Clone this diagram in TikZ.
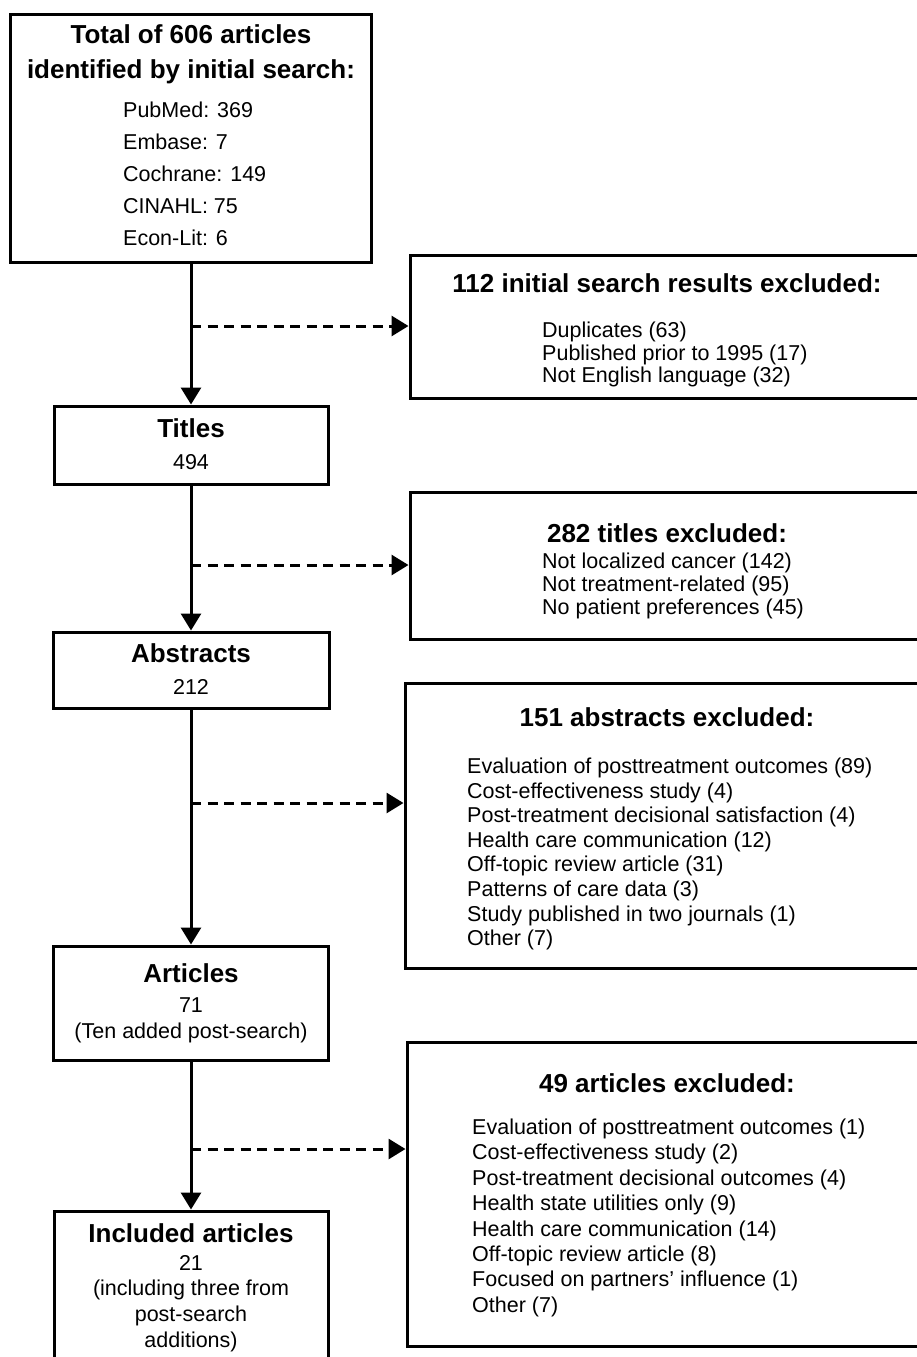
\documentclass[tikz,border=0pt]{standalone}
\usepackage{fontspec}
\setmainfont{Liberation Sans}
\usetikzlibrary{arrows.meta}

\tikzset{
  box/.style={draw, line width=3pt, inner sep=0pt},
  head/.style={font=\fontsize{26}{32}\selectfont\bfseries, inner sep=0pt},
  entry/.style={font=\fontsize{21.5}{26}\selectfont, inner sep=0pt},
  flow/.style={line width=3pt, -{Triangle[width=20pt,length=17pt]}},
  exclflow/.style={flow, dash pattern=on 10pt off 6.5pt},
}

\begin{document}
\begin{tikzpicture}[x=1pt, y=-1pt]
\useasboundingbox (0,0) rectangle (917,1357);
\clip (0,0) rectangle (917,1357);

% main column
\node[box, minimum width=361pt, minimum height=248pt] (search) at (191,138) {};
\node[head, align=center, font=\fontsize{26}{35}\selectfont\bfseries] (search-head) at (191,54.5) {Total of 606 articles\\identified by initial search:};
\foreach \t [count=\i] in {PubMed: 369, Embase: 7, Cochrane: 149, CINAHL: 75, Econ-Lit: 6}
  \node[entry, anchor=west] (search-\i) at (123,78+32*\i) {\t};

\node[box, minimum width=274pt, minimum height=78pt] (titles) at (191,445) {};
\node[head] (titles-head) at (191,428) {Titles};
\node[entry] (titles-num) at (191,462) {494};

\node[box, minimum width=276pt, minimum height=76pt] (abstracts) at (191,670) {};
\node[head] (abstracts-head) at (191,653) {Abstracts};
\node[entry] (abstracts-num) at (191,687) {212};

\node[box, minimum width=275pt, minimum height=114pt] (articles) at (191,1003) {};
\node[head] (articles-head) at (191,973) {Articles};
\node[entry, align=center] (articles-num) at (191,1020) {71\\(Ten added post-search)};

\node[box, minimum width=274pt, minimum height=200pt] (included) at (191,1311) {};
\node[head] (included-head) at (191,1233) {Included articles};
\node[entry, align=center, font=\fontsize{21.5}{25.7}\selectfont] (included-num) at (191,1303.5) {21\\(including three from\\post-search\\additions)};

% exclusion boxes
\node[box, minimum width=514pt, minimum height=143pt] (excl1) at (667,326.5) {};
\node[head] (excl1-head) at (667,283) {112 initial search results excluded:};
\foreach \t [count=\i from 0] in {Duplicates (63), Published prior to 1995 (17), Not English language (32)}
  \node[entry, anchor=west] (excl1-\i) at (542,332+22.5*\i) {\t};

\node[box, minimum width=514pt, minimum height=147pt] (excl2) at (667,565.5) {};
\node[head] (excl2-head) at (667,533) {282 titles excluded:};
\foreach \t [count=\i from 0] in {Not localized cancer (142), Not treatment-related (95), No patient preferences (45)}
  \node[entry, anchor=west] (excl2-\i) at (542,563+23*\i) {\t};

\node[box, minimum width=519pt, minimum height=285pt] (excl3) at (664.5,825.5) {};
\node[head] (excl3-head) at (667,717) {151 abstracts excluded:};
\foreach \t [count=\i from 0] in {Evaluation of posttreatment outcomes (89), Cost-effectiveness study (4),
    Post-treatment decisional satisfaction (4), Health care communication (12), Off-topic review article (31),
    Patterns of care data (3), Study published in two journals (1), Other (7)}
  \node[entry, anchor=west] (excl3-\i) at (467,768+24.6*\i) {\t};

\node[box, minimum width=517pt, minimum height=304pt] (excl4) at (665.5,1194) {};
\node[head] (excl4-head) at (667,1083) {49 articles excluded:};
\foreach \t [count=\i from 0] in {Evaluation of posttreatment outcomes (1), Cost-effectiveness study (2),
    Post-treatment decisional outcomes (4), Health state utilities only (9), Health care communication (14),
    Off-topic review article (8), Focused on partners' influence (1), Other (7)}
  \node[entry, anchor=west] (excl4-\i) at (472,1129+25.4*\i) {\t};

% connectors
\draw[flow] (search.south) -- (titles.north);
\draw[flow] (titles.south) -- (abstracts.north);
\draw[flow] (abstracts.south) -- (articles.north);
\draw[flow] (articles.south) -- (included.north);

\coordinate (split1) at (191,326);
\coordinate (split2) at (191,565);
\coordinate (split3) at (191,803);
\coordinate (split4) at (191,1149);
\draw[exclflow] (split1) -- (split1 -| excl1.west);
\draw[exclflow] (split2) -- (split2 -| excl2.west);
\draw[exclflow] (split3) -- (split3 -| excl3.west);
\draw[exclflow] (split4) -- (split4 -| excl4.west);
\end{tikzpicture}
\end{document}
